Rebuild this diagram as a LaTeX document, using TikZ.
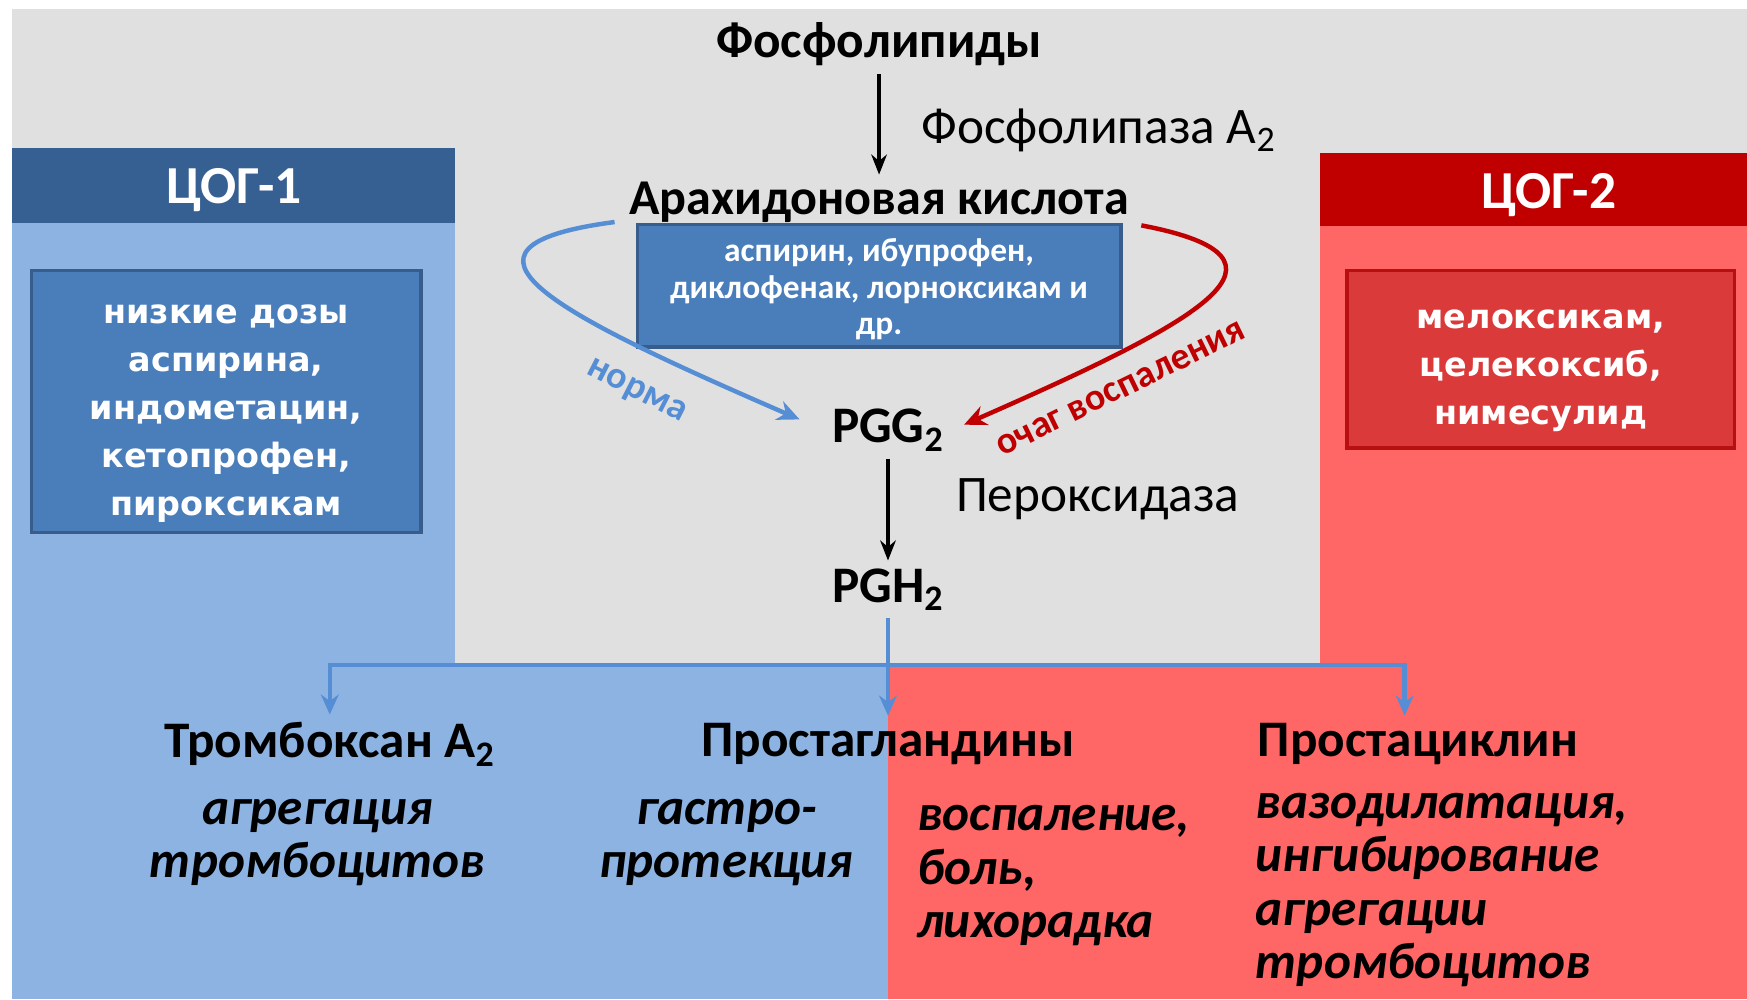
\documentclass[tikz,border=0pt]{standalone}
\usepackage{fontspec}
\setmainfont{Carlito}
\newfontfamily\verdfont{DejaVu Sans}
\usetikzlibrary{arrows.meta, calc, positioning}
\definecolor{cogbg}{HTML}{E0E0E0}
\definecolor{coglightblue}{HTML}{8DB3E2}
\definecolor{cogdarkblue}{HTML}{376092}
\definecolor{cogboxblue}{HTML}{4A7EBB}
\definecolor{cogboxedge}{HTML}{385D8A}
\definecolor{coglightred}{HTML}{FF6666}
\definecolor{cogdarkred}{HTML}{C00000}
\definecolor{cogboxred}{HTML}{DA3A3A}
\definecolor{cogboxrededge}{HTML}{B81010}
\definecolor{cogarrow}{HTML}{558ED5}

\begin{document}
\begin{tikzpicture}[x=0.5pt,y=-0.5pt,
        every node/.style={font=\fontsize{23}{27}\selectfont\bfseries},
        plain/.style={font=\fontsize{23}{27}\selectfont},
        effect/.style={font=\fontsize{23}{24}\selectfont\bfseries\itshape},
        head/.style={text=white, font=\fontsize{24}{28}\selectfont\bfseries},
        drugbox/.style={draw=cogboxedge, line width=1.5pt, fill=cogboxblue, text=white, align=center,
            font=\verdfont\bfseries\fontsize{15}{21.5}\selectfont},
        blackarrow/.style={-{Stealth[length=9pt,width=7pt]}, line width=1.5pt},
        flowarrow/.style={-{Stealth[length=9pt,width=8pt]}, line width=2pt, draw=cogarrow}]
    \useasboundingbox (0,0) rectangle (1568,897);

    % background panels
    \fill[white] (0,0) rectangle (1568,897);
    \fill[cogbg] (11,8) rectangle (1568,897);
    \fill[coglightblue] (11,200) rectangle (408,897);
    \fill[coglightblue] (11,595) rectangle (797,897);
    \fill[coglightred] (1185,203) rectangle (1568,897);
    \fill[coglightred] (797,595) rectangle (1568,897);
    \fill[cogdarkblue] (11,133) rectangle (408,200);
    \fill[cogdarkred] (1185,137) rectangle (1568,203);

    % enzyme headers
    \node[head] (C1) at (210,171) {ЦОГ-1};
    \node[head] (C2) at (1390,175) {ЦОГ-2};

    % drug boxes
    \node[drugbox, minimum width=175pt, minimum height=117.5pt] (D1) at (203,360.5)
        {\rule{0pt}{19.4pt}низкие дозы\\аспирина,\\индометацин,\\кетопрофен,\\пироксикам};
    \node[drugbox, draw=cogboxrededge, fill=cogboxred, minimum width=174pt, minimum height=79.5pt] (D2) at (1383,322.5)
        {\rule{0pt}{18.4pt}мелоксикам,\\целекоксиб,\\нимесулид};
    \node[drugbox, font=\fontsize{15}{16.25}\selectfont\bfseries, minimum width=217pt, minimum height=46.5pt] (D0) at (789,256.5)
        {\rule{0pt}{13.5pt}аспирин, ибупрофен,\\диклофенак, лорноксикам и\\др.};

    % pathway
    \node (FL) at (789,40) {Фосфолипиды};
    \node[font=\fontsize{22.5}{27}\selectfont\bfseries] (AK) at (789,182) {Арахидоновая кислота};
    \node (PGG) at (797,386) {PGG\textsubscript{2}};
    \node (PGH) at (797,529) {PGH\textsubscript{2}};
    \node[plain, anchor=west] (PLA) at (820,117) {Фосфолипаза A\textsubscript{2}};
    \node[plain, anchor=west] (PER) at (851,448) {Пероксидаза};

    \draw[blackarrow] (FL) -- (AK);
    \draw[blackarrow] (PGG) -- (PGH);

    % COX-1 / COX-2 routes
    \draw[-{Stealth[length=10pt,width=9pt]}, line width=2pt, draw=cogarrow, shorten >=12pt]
        ($(AK.south west)+(-6,-8)$) .. controls (380,222) and (500,282) .. (PGG.west);
    \draw[-{Stealth[length=10pt,width=9pt]}, line width=2pt, draw=cogdarkred, shorten >=6pt]
        ($(AK.south east)+(4,-5)$) .. controls (1180,232) and (1080,287) .. (PGG.east);
    \node[text=cogarrow, rotate=-27, font=\fontsize{17}{20}\selectfont\bfseries] (NR) at (571,352) {норма};
    \node[text=cogdarkred, rotate=26, font=\fontsize{17}{20}\selectfont\bfseries] (OV) at (1006,349) {очаг воспаления};

    % products
    \node (TX) at (296,668) {Тромбоксан A\textsubscript{2}};
    \node (PG) at (797,668) {Простагландины};
    \node[anchor=west] (PC) at (1122,668) {Простациклин};
    \coordinate (J) at (797,597);

    \draw[flowarrow] (PGH) -- (PG);
    \draw[flowarrow] (J) -| (TX);
    \draw[flowarrow] (J) -| ([xshift=-6pt]PC.north);

    % effects
    \node[effect, align=center] (E1) at (285,756) {агрегация\\тромбоцитов};
    \node[effect, align=center] (E2) at (652,756) {гастро-\\протекция};
    \node[effect, align=left, anchor=west] (E3) at (816,786) {воспаление,\\боль,\\лихорадка};
    \node[effect, align=left, anchor=west] (E4) at (1120,799) {вазодилатация,\\ингибирование\\агрегации\\тромбоцитов};
\end{tikzpicture}
\end{document}
